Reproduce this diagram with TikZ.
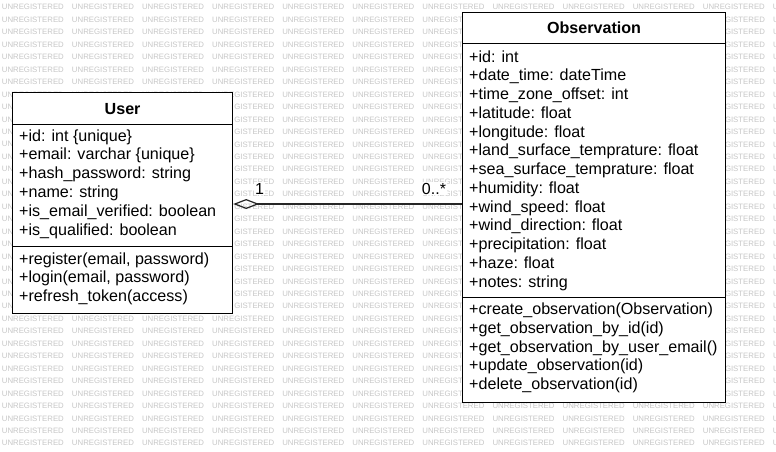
\documentclass[tikz,border=0pt]{standalone}
\usepackage{fontspec}
\setmainfont{Liberation Sans}
\usetikzlibrary{arrows.meta}
\newcommand\wmword{\makebox[70.1pt][l]{UNREGISTERED}}
\newcommand\wmsix{\wmword\wmword\wmword\wmword\wmword\wmword}
\newcommand\wmfull{\wmsix\wmsix}
\begin{document}
\begin{tikzpicture}[x=1pt,y=-1pt,
  sect/.style={draw=black,line width=1.2pt,fill=white,inner sep=0pt,anchor=north west},
  attr/.style={anchor=base west,inner sep=0pt,font=\fontsize{16.1}{18}\selectfont},
  ctitle/.style={anchor=center,inner sep=0pt,font=\fontsize{16.1}{18}\selectfont\bfseries},
  mult/.style={anchor=center,fill=white,inner sep=1.2pt,font=\fontsize{16}{17}\selectfont},
  wm/.style={anchor=west,inner sep=0pt,text=black!22,font=\fontsize{7.8}{8}\selectfont},
  assocline/.style={line width=1.3pt,draw=black!85}]
\useasboundingbox[fill=white] (0,0) rectangle (776,451);
% watermark (only the parts not covered by the class boxes)
\foreach \k in {0,32,33,34,35}
  {\node[wm] (wf\k) at (1.7,{7.3+12.457*\k}) {\wmfull};}
\foreach \k in {1,...,31}
  {\node[wm] (wr\k) at (724.8,{7.3+12.457*\k}) {\makebox[48pt][l]{GISTERED}U};}
\foreach \k in {1,...,7,25,26,...,31}
  {\node[wm] (wl\k) at (1.7,{7.3+12.457*\k}) {\wmsix UNREGIST};}
\foreach \k in {8,...,24}
  {\node[wm] (wa\k) at (1.7,{7.3+12.457*\k}) {UN};
   \node[wm] (wb\k) at (234.1,{7.3+12.457*\k}) {\makebox[48pt][l]{GISTERED}\wmword\wmword UNREGIST};}
% User class
\node[sect,minimum width=220pt,minimum height=32pt] (user-h) at (12,92) {};
\node[sect,minimum width=220pt,minimum height=122pt] (user-a) at (12,124) {};
\node[sect,minimum width=220pt,minimum height=67pt] (user-m) at (12,246) {};
\node[ctitle] (user-t) at (user-h.center) {User};
\foreach \t [count=\i from 0] in {{+id: int \{unique\}},{+email: varchar \{unique\}},{+hash\_password: string},{+name: string},{+is\_email\_verified: boolean},{+is\_qualified: boolean}}
  {\node[attr] (ua\i) at (19,141+18.8*\i) {\t};}
\foreach \t [count=\i from 0] in {{+register(email, password)},{+login(email, password)},{+refresh\_token(access)}}
  {\node[attr] (um\i) at (19,264+18.8*\i) {\t};}
% Observation class
\node[sect,minimum width=263pt,minimum height=31pt] (obs-h) at (462,12) {};
\node[sect,minimum width=263pt,minimum height=254pt] (obs-a) at (462,43) {};
\node[sect,minimum width=263pt,minimum height=104.5pt] (obs-m) at (462,297) {};
\node[ctitle] (obs-t) at (obs-h.center) {Observation};
\foreach \t [count=\i from 0] in {{+id: int},{+date\_time: dateTime},{+time\_zone\_offset: int},{+latitude: float},{+longitude: float},{+land\_surface\_temprature: float},{+sea\_surface\_temprature: float},{+humidity: float},{+wind\_speed: float},{+wind\_direction: float},{+precipitation: float},{+haze: float},{+notes: string}}
  {\node[attr] (oa\i) at (469,62+18.75*\i) {\t};}
\foreach \t [count=\i from 0] in {{+create\_observation(Observation)},{+get\_observation\_by\_id(id)},{+get\_observation\_by\_user\_email()},{+update\_observation(id)},{+delete\_observation(id)}}
  {\node[attr] (om\i) at (469,314.5+18.75*\i) {\t};}
% association
\coordinate (assoc) at (347,204);
\draw[assocline,{Diamond[open,length=26pt,width=10pt,line width=1.2pt]}-] (user-a.east |- assoc) -- (obs-a.west |- assoc);
\node[mult] (m1) at (259.5,188.5) {1};
\node[mult] (m2) at (434,188.5) {0..*};
\end{tikzpicture}
\end{document}
